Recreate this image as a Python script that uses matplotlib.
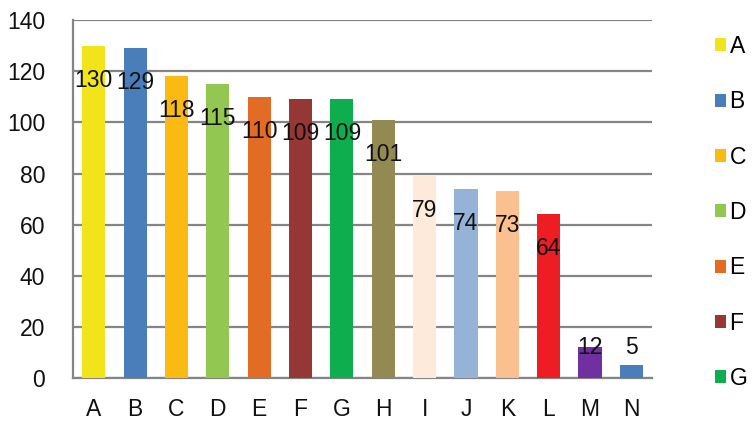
import matplotlib.pyplot as plt
from matplotlib.patches import Patch

plt.rcParams['font.family'] = ['Liberation Sans', 'DejaVu Sans']

categories = ['A', 'B', 'C', 'D', 'E', 'F', 'G', 'H', 'I', 'J', 'K', 'L', 'M', 'N']
values = [130, 129, 118, 115, 110, 109, 109, 101, 79, 74, 73, 64, 12, 5]
colors = ['#F2E41A', '#4A7EBB', '#FBBA12', '#92C851', '#E36C24', '#953735', '#0EAD4E',
          '#938953', '#FDEADA', '#95B3D7', '#FAC090', '#EE1D23', '#7030A0', '#4A7EBB']
legend_count = 7  # only the first entries fit in the figure height

fig = plt.figure(figsize=(7.53, 4.21), dpi=100)
ax = fig.add_axes([0.097, 0.102, 0.769, 0.85])

x = range(len(categories))
ax.bar(x, values, width=0.56, color=colors, zorder=3)

# value labels sit a little below the bar top, but never below the small-bar floor
for xi, v in zip(x, values):
    ax.text(xi, max(v - 13.5, 12), str(v), ha='center', va='center',
            fontsize=16.5, color='#111111', zorder=4)

ax.set_xlim(-0.5, len(categories) - 0.5)
ax.set_ylim(0, 140)
ax.set_yticks(range(0, 141, 20))
ax.set_xticks(list(x))
ax.set_xticklabels(categories)
ax.tick_params(axis='both', length=0, labelsize=16.5, colors='#111111')
ax.tick_params(axis='y', pad=20)
ax.tick_params(axis='x', pad=14)

ax.yaxis.grid(True, color='#858585', linewidth=1.6, zorder=0)
for side in ['top', 'right']:
    ax.spines[side].set_visible(False)
for side in ['left', 'bottom']:
    ax.spines[side].set_color('#858585')
    ax.spines[side].set_linewidth(1.6)

handles = [Patch(facecolor=c, edgecolor='none') for c in colors[:legend_count]]
fig.legend(handles, categories[:legend_count], loc='upper left',
           bbox_to_anchor=(0.949, 0.917), frameon=False, fontsize=16.5,
           handlelength=0.5, handleheight=0.5, handletextpad=0.15,
           labelspacing=1.41, borderaxespad=0, borderpad=0)

fig.savefig('out.png', dpi=100, facecolor='white')
